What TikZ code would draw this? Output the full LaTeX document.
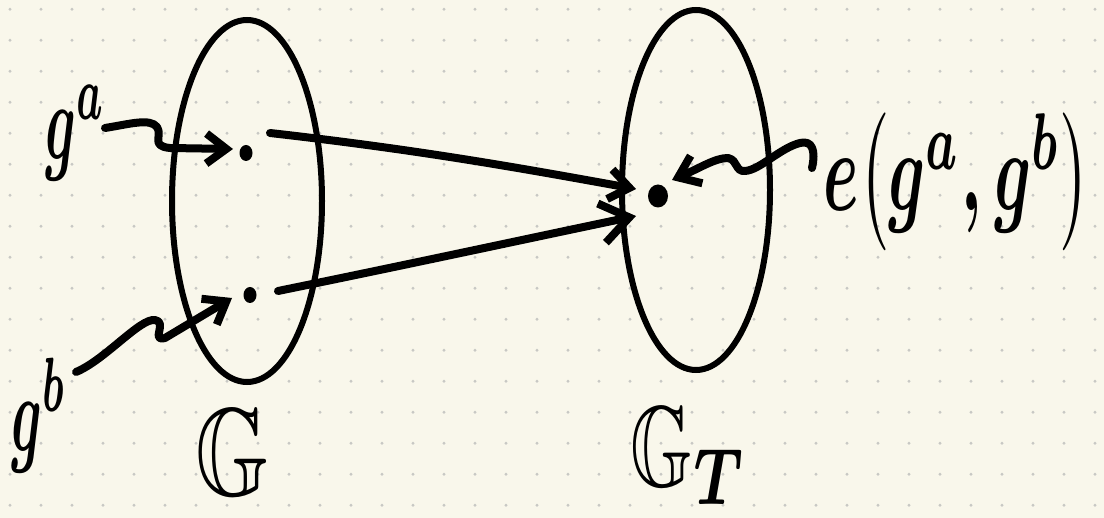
\documentclass[tikz,border=0pt]{standalone}
\usepackage{amsmath,amssymb}
\usetikzlibrary{arrows.meta,shapes.geometric}
\definecolor{paper}{RGB}{249,247,235}
\definecolor{griddot}{RGB}{200,200,196}
\begin{document}
\begin{tikzpicture}[x=1pt,y=-1pt,
  ink/.style={line width=8pt, line cap=round, line join=round},
  harrow/.style={ink, -{Straight Barb[length=20pt,width=30pt]}},
  setshape/.style={ellipse, draw, line width=6pt, minimum width=150pt, minimum height=362pt, inner sep=0pt},
  elem/.style={ellipse, fill, inner sep=0pt, minimum width=13pt, minimum height=16pt},
  lab/.style={inner sep=0pt, font=\boldmath}
]
\fill[paper] (0,0) rectangle (1104,518);
\useasboundingbox (0,0) rectangle (1104,518);
\foreach \i in {0,...,35}{\foreach \j in {0,...,16}{\fill[griddot] (10+31*\i,9.3+31*\j) circle[radius=1.6];}}

% sets
\node[setshape] (G1) at (247,201) {};
\node[setshape, minimum width=148pt, minimum height=360pt] (G2) at (696,190) {};

% elements
\node[elem] (a) at (246,153) {};
\node[elem] (b) at (250,295) {};
\node[elem, minimum width=20pt, minimum height=23pt] (t) at (658,196) {};

% labels
\node[lab, xscale=5.3, yscale=11] (la) at (76,133) {$g^{a}$};
\node[lab, xscale=5.3, yscale=11] (lb) at (39,415) {$g^{b}$};
\node[lab, xscale=6.4, yscale=11.5] (le) at (957,182) {$e\bigl(g^{a},g^{b}\bigr)$};
\node[lab, xscale=9.5, yscale=12.5] (lG) at (232,452) {$\mathbb{G}$};
\node[lab, xscale=8, yscale=11.5] (lGT) at (689,456) {$\mathbb{G}_T$};

% coordinates for free ends
\coordinate (a1) at (270,133);
\coordinate (t1) at (636,189);
\coordinate (b1) at (278,291);
\coordinate (t2) at (636,216);
\coordinate (ga1) at (105,128);
\coordinate (ga2) at (233,149);
\coordinate (gb1) at (76,372);
\coordinate (gb2) at (232,298);
\coordinate (e1) at (812,168);
\coordinate (e2) at (672,180);

% map arrows
\draw[harrow] (a1) .. controls (420,150) and (520,168) .. (t1);
\draw[ink, -{Straight Barb[length=28pt,width=40pt]}] (b1) .. controls (420,262) and (540,236) .. (t2);

% squiggly label arrows
\draw[harrow] (ga1) .. controls (130,124) and (150,118) .. (157,127) .. controls (163,136) and (150,146) .. (170,148) -- (ga2);
\draw[harrow] (gb1) .. controls (105,360) and (140,318) .. (155,320) .. controls (168,322) and (150,342) .. (165,338) -- (gb2);
\draw[harrow] (e1) .. controls (816,150) and (812,140) .. (800,143) .. controls (780,148) and (760,170) .. (745,171) .. controls (735,172) and (738,160) .. (728,158) .. controls (715,158) and (700,168) .. (e2);
\end{tikzpicture}
\end{document}
